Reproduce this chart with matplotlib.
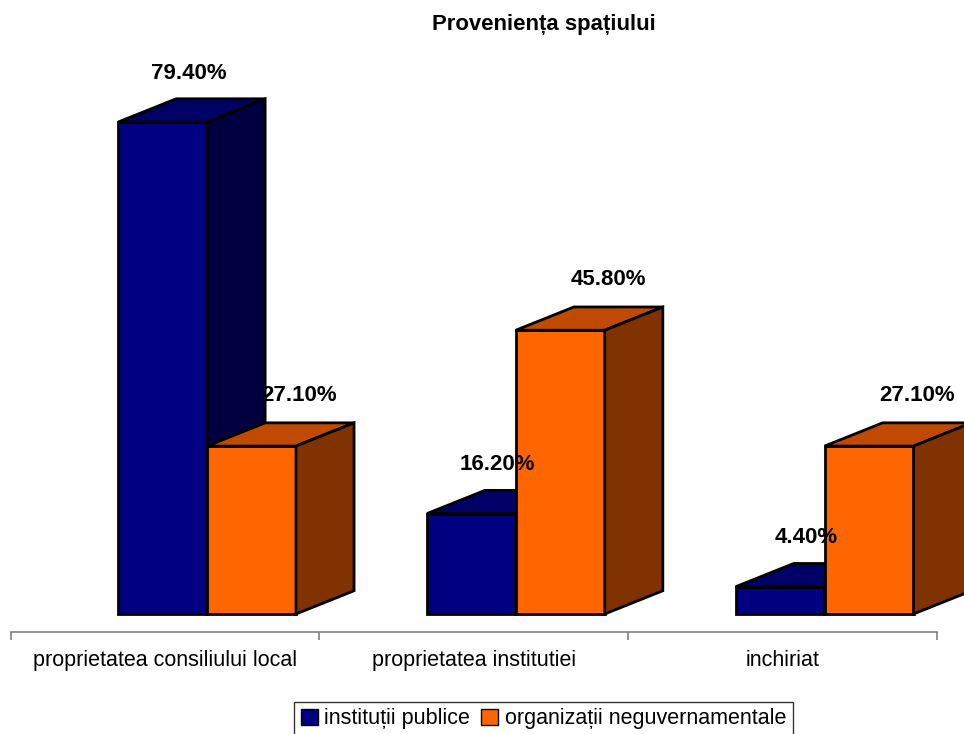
import numpy as np
import matplotlib
matplotlib.use("Agg")
import matplotlib.pyplot as plt
from matplotlib.patches import Polygon, Patch

plt.rcParams['font.family'] = ['Liberation Sans', 'DejaVu Sans']

# data
categories = ["proprietatea consiliului local", "proprietatea institutiei", "inchiriat"]
series_names = ["instituții publice", "organizații neguvernamentale"]
publice = [79.4, 16.2, 4.4]
ong = [27.1, 45.8, 27.1]

# colours: front, top, side
blue_faces = ("#000080", "#000066", "#000040")
orange_faces = ("#FF6600", "#C04B00", "#803300")

bar_w = 0.288       # width of one front face (category units)
start = -0.152      # left edge of first bar relative to category centre
depth_x = 0.188     # 3d depth offset
depth_y = 3.75
edge_lw = 2.0

fig = plt.figure(figsize=(9.64, 7.34), dpi=100)
ax = fig.add_axes([0.0111, 0.139, 0.9609, 0.8065])
ax.set_xlim(-0.5, 2.5)
ax.set_ylim(-2.905, 92.64)


def draw_series(x_left, values, faces, z):
    ax.bar(x_left, values, bar_w, align='edge', color=faces[0],
           edgecolor='black', linewidth=edge_lw, zorder=z, clip_on=False)
    for x0, v in zip(x_left, values):
        x1 = x0 + bar_w
        top = [(x0, v), (x1, v), (x1 + depth_x, v + depth_y), (x0 + depth_x, v + depth_y)]
        side = [(x1, 0), (x1 + depth_x, depth_y), (x1 + depth_x, v + depth_y), (x1, v)]
        for pts, fc in ((top, faces[1]), (side, faces[2])):
            ax.add_patch(Polygon(pts, closed=True, facecolor=fc, edgecolor='black',
                                 linewidth=edge_lw, joinstyle='miter', zorder=z,
                                 clip_on=False))


x = np.arange(len(categories))
x_blue = x + start
x_orange = x_blue + bar_w
draw_series(x_blue, publice, blue_faces, 2)
draw_series(x_orange, ong, orange_faces, 3)

# value labels
for xs, vals, dx, dy in ((x_blue, publice, 0.085, 7.0), (x_orange, ong, 0.155, 7.3)):
    for x0, v in zip(xs, vals):
        ax.text(x0 + bar_w / 2 + dx, v + dy, f"{v:.2f}%", ha='center', va='baseline',
                fontsize=16, fontweight='bold', zorder=5, clip_on=False)

# axis styling
for s in ("top", "right", "left"):
    ax.spines[s].set_visible(False)
ax.spines["bottom"].set_color("#808080")
ax.spines["bottom"].set_linewidth(1.2)
ax.set_yticks([])
ax.set_xticks(x)
ax.set_xticklabels(categories, fontsize=15.5)
ax.tick_params(axis='x', which='major', length=0, pad=13)
ax.set_xticks(np.arange(-0.5, 3, 1), minor=True)
ax.tick_params(axis='x', which='minor', length=6, color="#808080", width=1.2)

fig.text(0.5638, 0.966, "Proveniența spațiului", ha='center', va='center',
         fontsize=15.9, fontweight='bold')

handles = [Patch(facecolor=blue_faces[0], edgecolor='black'),
           Patch(facecolor=orange_faces[0], edgecolor='black')]
leg = fig.legend(handles, series_names, loc='upper center', bbox_to_anchor=(0.5638, 0.0436),
                 ncol=2, fontsize=15.5, frameon=True, fancybox=False, shadow=False,
                 handlelength=0.8, handleheight=0.8, handletextpad=0.3,
                 columnspacing=0.5, borderpad=0.3, borderaxespad=0)
leg.get_frame().set_edgecolor('black')
leg.get_frame().set_linewidth(1.0)

fig.savefig("out.png", dpi=100)
